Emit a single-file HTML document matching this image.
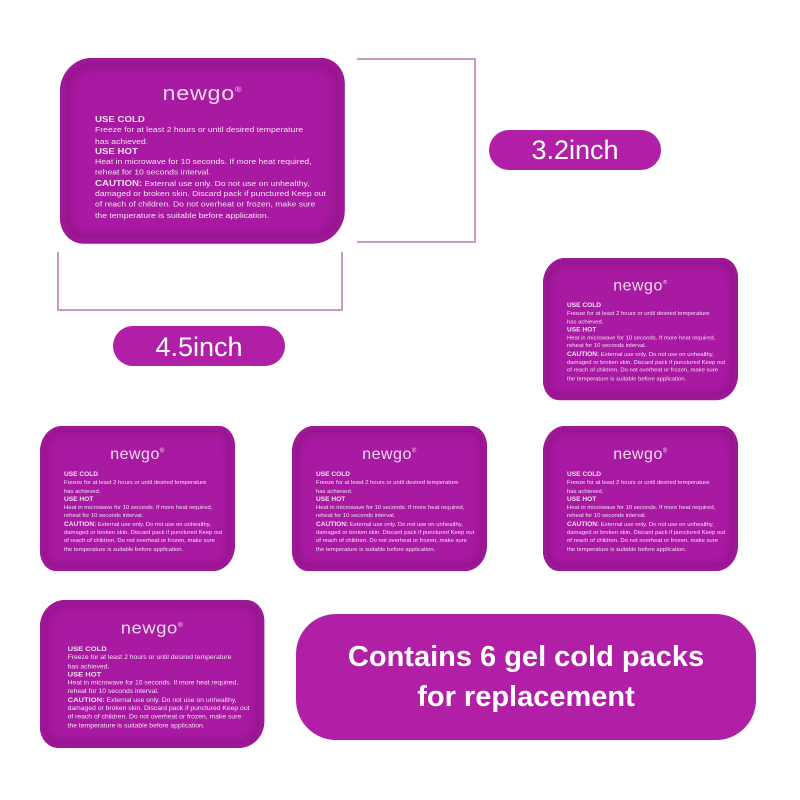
<!DOCTYPE html>
<html><head><style>
body{margin:0;width:800px;height:800px;background:#fff;position:relative;overflow:hidden;font-family:"Liberation Sans",sans-serif}
.a{position:absolute}
.pack{position:absolute;width:195px;height:145px;transform-origin:0 0}
.bg{position:absolute;inset:0;background:#a91aa2;border-radius:22px 16px 22px 16px/26px 20px 26px 20px;box-shadow:inset 0 0 0 4px #9e1796, inset 0 0 10px 6px #8e1386}
.logo{position:absolute;left:0;right:0;top:20px;text-align:center;color:#f2d8ef;font-size:16px;letter-spacing:0.5px}
.logo sup{font-size:6px}
.t{position:absolute;left:24px;top:45px;color:#f3dff1;font-size:5.9px;line-height:8.3px;white-space:nowrap}
.t b{font-size:6.6px}
.pill{position:absolute;background:#b01fa6;color:#fff;text-align:center}
.ln{position:absolute;background:#c79bc4}
</style></head><body>

<template id="x"></template>

<div class="pack" style="left:60px;top:58px;transform:scale(1.46,1.28)"><div class="bg"></div><div class="logo">newgo<sup>®</sup></div><div class="t"><b>USE COLD</b><br>Freeze for at least 2 hours or until desired temperature<br>has achieved.<br><b>USE HOT</b><br>Heat in microwave for 10 seconds. If more heat required,<br>reheat for 10 seconds interval.<br><b>CAUTION:</b> External use only. Do not use on unhealthy,<br>damaged or broken skin. Discard pack if punctured Keep out<br>of reach of children. Do not overheat or frozen, make sure<br>the temperature is suitable before application.</div></div>

<div class="pack" style="left:543px;top:258px;transform:scale(1,0.98)"><div class="bg"></div><div class="logo">newgo<sup>®</sup></div><div class="t"><b>USE COLD</b><br>Freeze for at least 2 hours or until desired temperature<br>has achieved.<br><b>USE HOT</b><br>Heat in microwave for 10 seconds. If more heat required,<br>reheat for 10 seconds interval.<br><b>CAUTION:</b> External use only. Do not use on unhealthy,<br>damaged or broken skin. Discard pack if punctured Keep out<br>of reach of children. Do not overheat or frozen, make sure<br>the temperature is suitable before application.</div></div>

<div class="pack" style="left:40px;top:426px"><div class="bg"></div><div class="logo">newgo<sup>®</sup></div><div class="t"><b>USE COLD</b><br>Freeze for at least 2 hours or until desired temperature<br>has achieved.<br><b>USE HOT</b><br>Heat in microwave for 10 seconds. If more heat required,<br>reheat for 10 seconds interval.<br><b>CAUTION:</b> External use only. Do not use on unhealthy,<br>damaged or broken skin. Discard pack if punctured Keep out<br>of reach of children. Do not overheat or frozen, make sure<br>the temperature is suitable before application.</div></div>

<div class="pack" style="left:292px;top:426px"><div class="bg"></div><div class="logo">newgo<sup>®</sup></div><div class="t"><b>USE COLD</b><br>Freeze for at least 2 hours or until desired temperature<br>has achieved.<br><b>USE HOT</b><br>Heat in microwave for 10 seconds. If more heat required,<br>reheat for 10 seconds interval.<br><b>CAUTION:</b> External use only. Do not use on unhealthy,<br>damaged or broken skin. Discard pack if punctured Keep out<br>of reach of children. Do not overheat or frozen, make sure<br>the temperature is suitable before application.</div></div>

<div class="pack" style="left:543px;top:426px"><div class="bg"></div><div class="logo">newgo<sup>®</sup></div><div class="t"><b>USE COLD</b><br>Freeze for at least 2 hours or until desired temperature<br>has achieved.<br><b>USE HOT</b><br>Heat in microwave for 10 seconds. If more heat required,<br>reheat for 10 seconds interval.<br><b>CAUTION:</b> External use only. Do not use on unhealthy,<br>damaged or broken skin. Discard pack if punctured Keep out<br>of reach of children. Do not overheat or frozen, make sure<br>the temperature is suitable before application.</div></div>

<div class="pack" style="left:40px;top:600px;transform:scale(1.15,1.02)"><div class="bg"></div><div class="logo">newgo<sup>®</sup></div><div class="t"><b>USE COLD</b><br>Freeze for at least 2 hours or until desired temperature<br>has achieved.<br><b>USE HOT</b><br>Heat in microwave for 10 seconds. If more heat required,<br>reheat for 10 seconds interval.<br><b>CAUTION:</b> External use only. Do not use on unhealthy,<br>damaged or broken skin. Discard pack if punctured Keep out<br>of reach of children. Do not overheat or frozen, make sure<br>the temperature is suitable before application.</div></div>

<div class="ln" style="left:357px;top:58px;width:119px;height:2px"></div>
<div class="ln" style="left:474px;top:58px;width:2px;height:185px"></div>
<div class="ln" style="left:357px;top:241px;width:119px;height:2px"></div>
<div class="ln" style="left:57px;top:252px;width:2px;height:59px"></div>
<div class="ln" style="left:57px;top:309px;width:286px;height:2px"></div>
<div class="ln" style="left:341px;top:252px;width:2px;height:59px"></div>

<div class="pill" style="left:489px;top:130px;width:172px;height:40px;border-radius:20px;font-size:27px;line-height:40px">3.2inch</div>
<div class="pill" style="left:113px;top:326px;width:172px;height:40px;border-radius:20px;font-size:27px;line-height:42px">4.5inch</div>
<div class="pill" style="left:296px;top:614px;width:460px;height:126px;border-radius:40px;font-size:29px;font-weight:bold;line-height:40px;display:flex;align-items:center;justify-content:center">Contains 6 gel cold packs<br>for replacement</div>
</body></html>
